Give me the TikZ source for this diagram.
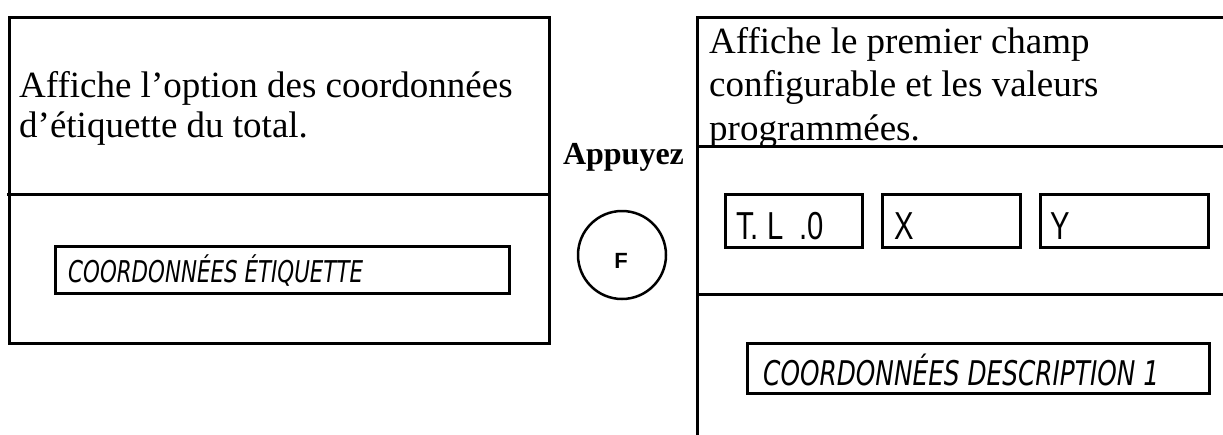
\documentclass[tikz,border=0pt]{standalone}
\usepackage{fontspec}
\usepackage{graphicx}
\setmainfont{Liberation Serif}
\newfontfamily\lcdfont{DejaVu Sans Condensed}
\newfontfamily\segfont[FakeStretch=0.75]{Liberation Sans}
\newfontfamily\keyfont{Liberation Sans}
\tikzset{
  frame/.style={line width=3pt, line cap=rect},
  panelbox/.style={draw, line width=3pt, rectangle, inner sep=0pt, anchor=north west},
  lcdbox/.style={draw, line width=3pt, rectangle, inner sep=0pt},
  segbox/.style={draw, line width=3pt, rectangle, inner sep=0pt},
  bodytext/.style={anchor=base west, inner sep=0pt, align=left},
  lcdtext/.style={anchor=base west, inner sep=0pt, font=\lcdfont\itshape},
  segtext/.style={anchor=base west, inner sep=0pt, font=\segfont\fontsize{39}{39}\selectfont},
  keycircle/.style={draw, circle, line width=2.5pt, minimum size=88pt, inner sep=0pt},
}
\begin{document}
\begin{tikzpicture}[x=1pt,y=-1pt]
\useasboundingbox (0,0) rectangle (1223,434);
% left panel
\node[panelbox, minimum width=540pt, minimum height=326pt] (leftpanel) at (8,16) {};
\draw[frame] (8,194) -- (548,194);
% anchor base = baseline of the last line
\node[bodytext, font=\fontsize{37}{40}\selectfont] (lefttext) at (19,137)
  {Affiche l’option des coordonnées\\d’étiquette du total.};
\node[lcdbox, minimum width=454pt, minimum height=47pt] (etiqbox) at (282,269.5) {};
\node[lcdtext] (etiqtext) at (68,282)
  {\resizebox{295pt}{\height}{\fontsize{30}{30}\selectfont COORDONNÉES ÉTIQUETTE}};
% middle
\node[anchor=base, inner sep=0pt, font=\bfseries\fontsize{32}{32}\selectfont] (press) at (623.5,164) {Appuyez};
\node[keycircle] (key) at (622,255) {};
\node[anchor=base, inner sep=0pt, font=\keyfont\bfseries\fontsize{22}{22}\selectfont] (keyF) at (621,268) {F};
% right panel
\draw[frame] (1223,17) -- (697,17) -- (697,434);
\draw[frame] (697,146) -- (1223,146);
\draw[frame] (697,294) -- (1223,294);
\node[bodytext, font=\fontsize{37}{43.5}\selectfont] (righttext) at (709,140)
  {Affiche le premier champ\\configurable et les valeurs\\programmées.};
\node[segbox, minimum width=137pt, minimum height=53pt] (tlbox) at (793.5,220.5) {};
\node[segbox, minimum width=138pt, minimum height=53pt] (xbox) at (951,220.5) {};
\node[segbox, minimum width=168pt, minimum height=53pt] (ybox) at (1124,220.5) {};
\node[segtext] (tltext) at (736,239) {T. L\hspace{8pt} .0};
\node[segtext] (xtext) at (894,239) {X};
\node[segtext] (ytext) at (1050,239) {Y};
\node[lcdbox, minimum width=462pt, minimum height=50pt] (descbox) at (978,368) {};
\node[lcdtext] (desctext) at (763,385)
  {\resizebox{396pt}{\height}{\fontsize{34}{34}\selectfont COORDONNÉES DESCRIPTION 1}};
\end{tikzpicture}
\end{document}
